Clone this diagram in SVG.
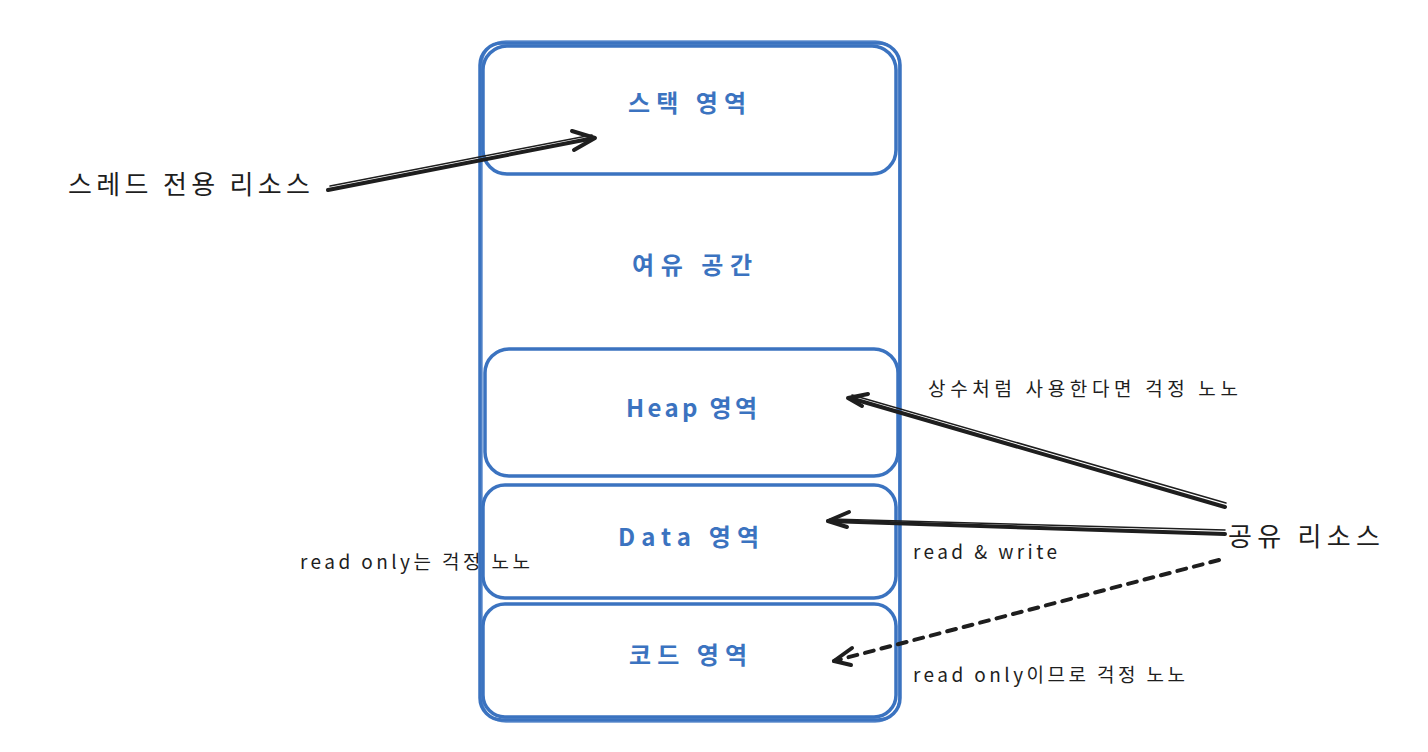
<svg xmlns="http://www.w3.org/2000/svg" width="1428" height="752" viewBox="0 0 1428 752">
<style>
.box{fill:none;stroke:#3b73c0;stroke-width:3.5;stroke-linejoin:round}
.box2{fill:none;stroke:#3b73c0;stroke-width:1.5;opacity:.8}
.lbl{font-family:"Noto Sans CJK KR","Noto Sans",sans-serif;fill:#3b73c0;font-size:24px;font-weight:600}
.txt{font-family:"Noto Sans CJK KR","Noto Sans",sans-serif;fill:#1e1e1e}
.con{fill:none;stroke:#1e1e1e;stroke-width:4;stroke-linecap:round;stroke-linejoin:round}
.thin{fill:none;stroke:#1e1e1e;stroke-width:1.5;stroke-linecap:round}
</style>
<rect width="1428" height="752" fill="#ffffff"/>
<g id="container">
<rect class="box" x="480" y="43" width="420" height="677" rx="22"/>
<rect class="box2" x="482" y="41" width="417" height="681" rx="24"/>
</g>
<g id="stack">
<rect class="box" x="483" y="46" width="413" height="128" rx="24"/>
<text class="lbl" x="628" y="112" textLength="118" lengthAdjust="spacing">스택 영역</text>
</g>
<g id="free">
<text class="lbl" x="632" y="274" textLength="120" lengthAdjust="spacing">여유 공간</text>
</g>
<g id="heap">
<rect class="box" x="485" y="349" width="413" height="127" rx="24"/>
<text class="lbl" x="626" y="417" textLength="131" lengthAdjust="spacing">Heap 영역</text>
</g>
<g id="data">
<rect class="box" x="483" y="485" width="413" height="113" rx="22"/>
<text class="lbl" x="618" y="546" textLength="141" lengthAdjust="spacing">Data 영역</text>
</g>
<g id="code">
<rect class="box" x="483" y="604" width="413" height="113" rx="22"/>
<text class="lbl" x="629" y="664" textLength="118" lengthAdjust="spacing">코드 영역</text>
</g>
<g id="thread-label">
<text class="txt" x="68" y="194" font-size="26" textLength="242" lengthAdjust="spacing">스레드 전용 리소스</text>
</g>
<g id="shared-label">
<text class="txt" x="1228" y="546" font-size="26" textLength="152" lengthAdjust="spacing">공유 리소스</text>
</g>
<g id="notes">
<text class="txt" x="928" y="396" font-size="19" textLength="310" lengthAdjust="spacing">상수처럼 사용한다면 걱정 노노</text>
<text class="txt" x="913" y="559" font-size="19" textLength="144" lengthAdjust="spacing">read &amp; write</text>
<text class="txt" x="913" y="682" font-size="19" textLength="272" lengthAdjust="spacing">read only이므로 걱정 노노</text>
<text class="txt" x="300" y="569" font-size="19" textLength="230" lengthAdjust="spacing">read only는 걱정 노노</text>
</g>
<g id="connectors">
<path class="con" d="M328 190 L594 138"/>
<path class="thin" d="M330 186 L592 135"/>
<path class="con" d="M572 131 L595 138 L574 150"/>
<path class="con" d="M1225 507 L850 398"/>
<path class="thin" d="M1226 503 L852 395"/>
<path class="con" d="M868 394 L848 398 L862 406"/>
<path class="con" d="M1225 534 L828 521"/>
<path class="thin" d="M1225 530 L830 519"/>
<path class="con" d="M849 512 L828 521 L847 527"/>
<path class="con" d="M1219 560 L834 661" stroke-dasharray="9 8"/>
<path class="con" d="M852 648 L834 661 L851 665"/>
</g>
</svg>
